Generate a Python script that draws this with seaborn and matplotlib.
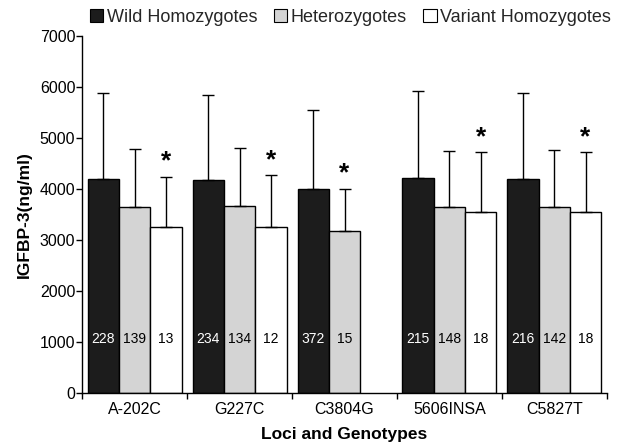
import numpy as np
import pandas as pd
import matplotlib
matplotlib.use("Agg")
import matplotlib.pyplot as plt
from matplotlib.patches import Patch
import seaborn as sns

# IGFBP-3 levels (ng/ml) by locus and genotype: means, standard deviations, group sizes
loci = ["A-202C", "G227C", "C3804G", "5606INSA", "C5827T"]
genotypes = ["Wild Homozygotes", "Heterozygotes", "Variant Homozygotes"]

wild_mean = [4195, 4170, 3990, 4210, 4195]
het_mean = [3645, 3665, 3175, 3645, 3645]
var_mean = [3260, 3260, np.nan, 3540, 3540]

wild_sd = [1690, 1680, 1550, 1715, 1690]
het_sd = [1145, 1145, 830, 1090, 1120]
var_sd = [980, 1005, np.nan, 1175, 1175]

wild_n = [228, 234, 372, 215, 216]
het_n = [139, 134, 15, 148, 142]
var_n = [13, 12, np.nan, 18, 18]

# significance marker per locus: which genotype carries the asterisk
star_genotype = ["Variant Homozygotes", "Variant Homozygotes", "Heterozygotes",
                 "Variant Homozygotes", "Variant Homozygotes"]

colors = ["#1c1c1c", "#d4d4d4", "#ffffff"]

rows = []
for g, means, sds, ns in zip(genotypes,
                             [wild_mean, het_mean, var_mean],
                             [wild_sd, het_sd, var_sd],
                             [wild_n, het_n, var_n]):
    for locus, m, s, n in zip(loci, means, sds, ns):
        rows.append({"locus": locus, "genotype": g, "mean": m, "sd": s, "n": n})
df = pd.DataFrame(rows)

sns.set_style("ticks")
plt.rcParams["font.family"] = ["Liberation Sans", "DejaVu Sans"]

fig = plt.figure(figsize=(6.18, 4.45), dpi=100)
ax = fig.add_axes([0.1332, 0.1175, 0.8485, 0.8015])

sns.barplot(data=df.dropna(subset=["mean"]), x="locus", y="mean", hue="genotype",
            order=loci, hue_order=genotypes, palette=colors, width=0.895,
            errorbar=None, edgecolor="black", linewidth=1.0, saturation=1,
            legend=False, ax=ax)

# one-sided SD bars, group sizes and significance stars on each bar
for container, g in zip(ax.containers, genotypes):
    sub = df[(df["genotype"] == g) & df["mean"].notna()]
    for bar, (_, row) in zip(container.patches, sub.iterrows()):
        xc = bar.get_x() + bar.get_width() / 2
        top = bar.get_height()
        ax.errorbar(xc, top, yerr=[[0], [row["sd"]]], fmt="none",
                    ecolor="black", elinewidth=1.0, capsize=4, capthick=1.0, zorder=1)
        ax.text(xc, 1050, f"{int(row['n'])}", ha="center", va="center",
                fontsize=10, color="white" if g == genotypes[0] else "black")
        if star_genotype[loci.index(row["locus"])] == g:
            ax.text(xc, top + row["sd"] + 60, "*", ha="center", va="bottom",
                    fontsize=19, fontweight="bold", color="black")

ax.set_ylim(0, 7000)
ax.set_xlim(-0.5, len(loci) - 0.5)
ax.set_yticks(np.arange(0, 7001, 1000))
ax.tick_params(axis="y", direction="out", length=4, width=1, labelsize=11.5, pad=1,
               color="black", labelcolor="black")

# tick marks at group boundaries, labels centred under each locus
ax.set_xticks(np.arange(-0.5, len(loci), 1.0))
ax.set_xticklabels([])
ax.set_xticks(np.arange(len(loci)), minor=True)
ax.set_xticklabels(loci, minor=True, fontsize=11.5, color="black")
ax.tick_params(axis="x", which="major", direction="out", length=4, width=1, color="black")
ax.tick_params(axis="x", which="minor", length=0, pad=7)

for side in ["top", "right"]:
    ax.spines[side].set_visible(False)
for side in ["left", "bottom"]:
    ax.spines[side].set_color("black")
    ax.spines[side].set_linewidth(1)

ax.set_ylabel("IGFBP-3(ng/ml)", fontsize=12.5, fontweight="bold", labelpad=6, color="black")
ax.set_xlabel("Loci and Genotypes", fontsize=12.5, fontweight="bold", labelpad=7, color="black")

handles = [Patch(facecolor=c, edgecolor="black", linewidth=0.8) for c in colors]
fig.legend(handles, genotypes, loc="upper center", bbox_to_anchor=(0.567, 1.005), ncol=3,
           frameon=False, fontsize=13, handlelength=0.75, handleheight=0.75,
           handletextpad=0.2, columnspacing=0.9, borderaxespad=0.2)

fig.savefig("out.png", dpi=100)
